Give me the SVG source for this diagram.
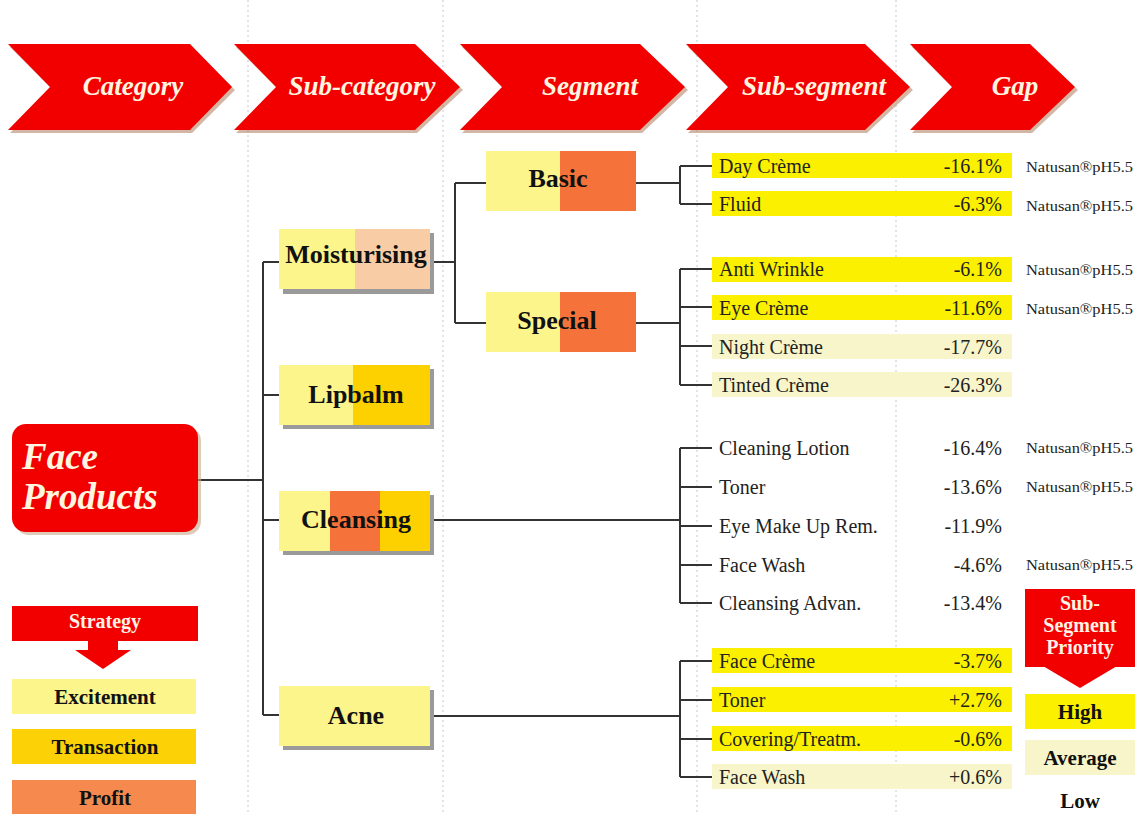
<svg xmlns="http://www.w3.org/2000/svg" width="1145" height="814" viewBox="0 0 1145 814">
  <defs>
    <style>
      .guide { stroke: #c8c8c8; stroke-width: 1; stroke-dasharray: 2 3; fill: none; }
      .chev { fill: #f20000; }
      .chev-sh { fill: #b07a5a; opacity: 0.55; }
      .htxt { font-family: "Liberation Serif", serif; font-style: italic; font-weight: bold; font-size: 27px; fill: #fff6e0; text-anchor: middle; }
      .node-txt { font-family: "Liberation Serif", serif; font-weight: bold; font-size: 26px; fill: #111; text-anchor: middle; }
      .sub-txt { font-family: "Liberation Serif", serif; font-size: 20px; fill: #222; }
      .gap-txt { font-family: "Liberation Serif", serif; font-size: 20px; fill: #222; text-anchor: end; }
      .nat-txt { font-family: "Liberation Serif", serif; font-size: 15px; fill: #222; }
      .leg-txt { font-family: "Liberation Serif", serif; font-weight: bold; font-size: 21px; fill: #111; text-anchor: middle; }
      .leg-white { font-family: "Liberation Serif", serif; font-weight: bold; font-size: 20px; fill: #fff3e6; text-anchor: middle; }
      .cat-txt { font-family: "Liberation Serif", serif; font-style: italic; font-weight: bold; font-size: 37px; fill: #fff6e0; }
      .shadow { fill: #9a9a9a; }
      .lt { fill: #fcf58c; }
      .peach { fill: #f8cda6; }
      .gold { fill: #fdd000; }
      .orange { fill: #f5733a; }
      .hi { fill: #faf000; }
      .avg { fill: #f8f5cb; }
      .conn { stroke: #333; stroke-width: 2; fill: none; }
    </style>
  </defs>

  <rect width="1145" height="814" fill="#ffffff"/>

  <!-- column guides -->
  <g id="guides">
    <line class="guide" x1="248" y1="0" x2="248" y2="814"/>
    <line class="guide" x1="443" y1="0" x2="443" y2="814"/>
    <line class="guide" x1="697" y1="0" x2="697" y2="814"/>
    <line class="guide" x1="896" y1="0" x2="896" y2="814"/>
  </g>

  <!-- header chevrons -->
  <g id="header-category">
    <polygon class="chev-sh" points="10,47 192,47 235,90 192,133 10,133 53,90"/>
    <polygon class="chev" points="8,44 190,44 232,87 190,130 8,130 50,87"/>
    <text class="htxt" x="133" y="95">Category</text>
  </g>
  <g id="header-subcategory">
    <polygon class="chev-sh" points="236,47 417,47 463,90 417,133 236,133 279,90"/>
    <polygon class="chev" points="234,44 415,44 460,87 415,130 234,130 276,87"/>
    <text class="htxt" x="362" y="95">Sub-category</text>
  </g>
  <g id="header-segment">
    <polygon class="chev-sh" points="462,47 642,47 688,90 642,133 462,133 505,90"/>
    <polygon class="chev" points="460,44 640,44 685,87 640,130 460,130 502,87"/>
    <text class="htxt" x="590" y="95">Segment</text>
  </g>
  <g id="header-subsegment">
    <polygon class="chev-sh" points="688,47 867,47 913,90 867,133 688,133 731,90"/>
    <polygon class="chev" points="686,44 865,44 910,87 865,130 686,130 728,87"/>
    <text class="htxt" x="814" y="95">Sub-segment</text>
  </g>
  <g id="header-gap">
    <polygon class="chev-sh" points="912,47 1032,47 1078,90 1032,133 912,133 955,90"/>
    <polygon class="chev" points="910,44 1030,44 1075,87 1030,130 910,130 952,87"/>
    <text class="htxt" x="1015" y="95">Gap</text>
  </g>

  <!-- connectors -->
  <g id="connectors">
    <!-- category to sub-categories -->
    <line class="conn" x1="198" y1="480" x2="263" y2="480"/>
    <line class="conn" x1="263" y1="262" x2="263" y2="715"/>
    <line class="conn" x1="263" y1="262" x2="280" y2="262"/>
    <line class="conn" x1="263" y1="395" x2="280" y2="395"/>
    <line class="conn" x1="263" y1="520" x2="280" y2="520"/>
    <line class="conn" x1="263" y1="715" x2="280" y2="715"/>
    <!-- moisturising to segments -->
    <line class="conn" x1="430" y1="262" x2="455" y2="262"/>
    <line class="conn" x1="455" y1="183" x2="455" y2="323"/>
    <line class="conn" x1="455" y1="183" x2="487" y2="183"/>
    <line class="conn" x1="455" y1="323" x2="487" y2="323"/>
    <!-- basic -->
    <line class="conn" x1="636" y1="183" x2="680" y2="183"/>
    <line class="conn" x1="680" y1="166" x2="680" y2="204"/>
    <line class="conn" x1="680" y1="166" x2="712" y2="166"/>
    <line class="conn" x1="680" y1="204" x2="712" y2="204"/>
    <!-- special -->
    <line class="conn" x1="636" y1="323" x2="680" y2="323"/>
    <line class="conn" x1="680" y1="269" x2="680" y2="385"/>
    <line class="conn" x1="680" y1="269" x2="712" y2="269"/>
    <line class="conn" x1="680" y1="307" x2="712" y2="307"/>
    <line class="conn" x1="680" y1="346" x2="712" y2="346"/>
    <line class="conn" x1="680" y1="385" x2="712" y2="385"/>
    <!-- cleansing -->
    <line class="conn" x1="430" y1="520" x2="680" y2="520"/>
    <line class="conn" x1="680" y1="448" x2="680" y2="603"/>
    <line class="conn" x1="680" y1="448" x2="712" y2="448"/>
    <line class="conn" x1="680" y1="487" x2="712" y2="487"/>
    <line class="conn" x1="680" y1="526" x2="712" y2="526"/>
    <line class="conn" x1="680" y1="565" x2="712" y2="565"/>
    <line class="conn" x1="680" y1="603" x2="712" y2="603"/>
    <!-- acne -->
    <line class="conn" x1="430" y1="716" x2="680" y2="716"/>
    <line class="conn" x1="680" y1="661" x2="680" y2="777"/>
    <line class="conn" x1="680" y1="661" x2="712" y2="661"/>
    <line class="conn" x1="680" y1="700" x2="712" y2="700"/>
    <line class="conn" x1="680" y1="739" x2="712" y2="739"/>
    <line class="conn" x1="680" y1="777" x2="712" y2="777"/>
  </g>

  <!-- category -->
  <g id="node-face-products">
    <rect x="15" y="427" width="186" height="108" rx="14" fill="#c9a98a" opacity="0.6"/>
    <rect x="12" y="424" width="186" height="108" rx="14" fill="#f20000"/>
    <text class="cat-txt" x="22" y="469">Face</text>
    <text class="cat-txt" x="22" y="509">Products</text>
  </g>

  <!-- sub-categories -->
  <g id="node-moisturising">
    <rect class="shadow" x="283" y="233" width="151" height="61"/>
    <rect class="lt" x="279" y="229" width="76" height="60"/>
    <rect class="peach" x="355" y="229" width="75" height="60"/>
    <text class="node-txt" x="356" y="263">Moisturising</text>
  </g>
  <g id="node-lipbalm">
    <rect class="shadow" x="283" y="369" width="151" height="60"/>
    <rect class="lt" x="279" y="365" width="74" height="60"/>
    <rect class="gold" x="353" y="365" width="77" height="60"/>
    <text class="node-txt" x="356" y="403">Lipbalm</text>
  </g>
  <g id="node-cleansing">
    <rect class="shadow" x="283" y="495" width="151" height="60"/>
    <rect class="lt" x="279" y="491" width="51" height="60"/>
    <rect class="orange" x="330" y="491" width="50" height="60"/>
    <rect class="gold" x="380" y="491" width="50" height="60"/>
    <text class="node-txt" x="356" y="528">Cleansing</text>
  </g>
  <g id="node-acne">
    <rect class="shadow" x="283" y="690" width="151" height="60"/>
    <rect class="lt" x="279" y="686" width="151" height="60"/>
    <text class="node-txt" x="356" y="724">Acne</text>
  </g>

  <!-- segments -->
  <g id="node-basic">
    <rect class="lt" x="486" y="151" width="74" height="60"/>
    <rect class="orange" x="560" y="151" width="76" height="60"/>
    <text class="node-txt" x="558" y="187">Basic</text>
  </g>
  <g id="node-special">
    <rect class="lt" x="486" y="292" width="74" height="60"/>
    <rect class="orange" x="560" y="292" width="76" height="60"/>
    <text class="node-txt" x="557" y="329">Special</text>
  </g>

  <!-- sub-segments with gap -->
  <g id="sub-day-creme">
    <rect class="hi" x="712" y="153" width="300" height="25"/>
    <text class="sub-txt" x="719" y="173">Day Crème</text>
    <text class="gap-txt" x="1002" y="173">-16.1%</text>
    <text class="nat-txt" x="1026" y="172" textLength="107" lengthAdjust="spacingAndGlyphs">Natusan®pH5.5</text>
  </g>
  <g id="sub-fluid">
    <rect class="hi" x="712" y="191" width="300" height="25"/>
    <text class="sub-txt" x="719" y="211">Fluid</text>
    <text class="gap-txt" x="1002" y="211">-6.3%</text>
    <text class="nat-txt" x="1026" y="211" textLength="107" lengthAdjust="spacingAndGlyphs">Natusan®pH5.5</text>
  </g>
  <g id="sub-anti-wrinkle">
    <rect class="hi" x="712" y="257" width="300" height="25"/>
    <text class="sub-txt" x="719" y="276">Anti Wrinkle</text>
    <text class="gap-txt" x="1002" y="276">-6.1%</text>
    <text class="nat-txt" x="1026" y="275" textLength="107" lengthAdjust="spacingAndGlyphs">Natusan®pH5.5</text>
  </g>
  <g id="sub-eye-creme">
    <rect class="hi" x="712" y="295" width="300" height="25"/>
    <text class="sub-txt" x="719" y="315">Eye Crème</text>
    <text class="gap-txt" x="1002" y="315">-11.6%</text>
    <text class="nat-txt" x="1026" y="314" textLength="107" lengthAdjust="spacingAndGlyphs">Natusan®pH5.5</text>
  </g>
  <g id="sub-night-creme">
    <rect class="avg" x="712" y="334" width="300" height="25"/>
    <text class="sub-txt" x="719" y="354">Night Crème</text>
    <text class="gap-txt" x="1002" y="354">-17.7%</text>
  </g>
  <g id="sub-tinted-creme">
    <rect class="avg" x="712" y="372" width="300" height="25"/>
    <text class="sub-txt" x="719" y="392">Tinted Crème</text>
    <text class="gap-txt" x="1002" y="392">-26.3%</text>
  </g>
  <g id="sub-cleaning-lotion">
    <text class="sub-txt" x="719" y="455">Cleaning Lotion</text>
    <text class="gap-txt" x="1002" y="455">-16.4%</text>
    <text class="nat-txt" x="1026" y="453" textLength="107" lengthAdjust="spacingAndGlyphs">Natusan®pH5.5</text>
  </g>
  <g id="sub-toner-c">
    <text class="sub-txt" x="719" y="494">Toner</text>
    <text class="gap-txt" x="1002" y="494">-13.6%</text>
    <text class="nat-txt" x="1026" y="492" textLength="107" lengthAdjust="spacingAndGlyphs">Natusan®pH5.5</text>
  </g>
  <g id="sub-eye-make-up">
    <text class="sub-txt" x="719" y="533">Eye Make Up Rem.</text>
    <text class="gap-txt" x="1002" y="533">-11.9%</text>
  </g>
  <g id="sub-face-wash-c">
    <text class="sub-txt" x="719" y="572">Face Wash</text>
    <text class="gap-txt" x="1002" y="572">-4.6%</text>
    <text class="nat-txt" x="1026" y="570" textLength="107" lengthAdjust="spacingAndGlyphs">Natusan®pH5.5</text>
  </g>
  <g id="sub-cleansing-advan">
    <text class="sub-txt" x="719" y="610">Cleansing Advan.</text>
    <text class="gap-txt" x="1002" y="610">-13.4%</text>
  </g>
  <g id="sub-face-creme">
    <rect class="hi" x="712" y="648" width="300" height="25"/>
    <text class="sub-txt" x="719" y="668">Face Crème</text>
    <text class="gap-txt" x="1002" y="668">-3.7%</text>
  </g>
  <g id="sub-toner-a">
    <rect class="hi" x="712" y="687" width="300" height="25"/>
    <text class="sub-txt" x="719" y="707">Toner</text>
    <text class="gap-txt" x="1002" y="707">+2.7%</text>
  </g>
  <g id="sub-covering">
    <rect class="hi" x="712" y="726" width="300" height="25"/>
    <text class="sub-txt" x="719" y="746">Covering/Treatm.</text>
    <text class="gap-txt" x="1002" y="746">-0.6%</text>
  </g>
  <g id="sub-face-wash-a">
    <rect class="avg" x="712" y="764" width="300" height="25"/>
    <text class="sub-txt" x="719" y="784">Face Wash</text>
    <text class="gap-txt" x="1002" y="784">+0.6%</text>
  </g>

  <!-- strategy legend -->
  <g id="legend-strategy">
    <rect x="12" y="606" width="186" height="35" fill="#f20000"/>
    <polygon points="88,640 118,640 118,650 131,650 103,669 75,650 88,650" fill="#f20000"/>
    <text class="leg-white" x="105" y="628">Strategy</text>
    <rect x="12" y="679" width="184" height="35" fill="#fcf58c"/>
    <text class="leg-txt" x="105" y="704">Excitement</text>
    <rect x="12" y="729" width="184" height="35" fill="#fcd106"/>
    <text class="leg-txt" x="105" y="754">Transaction</text>
    <rect x="12" y="780" width="184" height="34" fill="#f5894e"/>
    <text class="leg-txt" x="105" y="805">Profit</text>
  </g>

  <!-- priority legend -->
  <g id="legend-priority">
    <rect x="1025" y="589" width="110" height="78" fill="#f20000"/>
    <polygon points="1043,666 1117,666 1080,688" fill="#f20000"/>
    <text class="leg-white" x="1080" y="610">Sub-</text>
    <text class="leg-white" x="1080" y="632">Segment</text>
    <text class="leg-white" x="1080" y="654">Priority</text>
    <rect x="1025" y="694" width="110" height="35" fill="#faf000"/>
    <text class="leg-txt" x="1080" y="719">High</text>
    <rect x="1025" y="740" width="110" height="35" fill="#f8f5cb"/>
    <text class="leg-txt" x="1080" y="765">Average</text>
    <text class="leg-txt" x="1080" y="808">Low</text>
  </g>
</svg>
